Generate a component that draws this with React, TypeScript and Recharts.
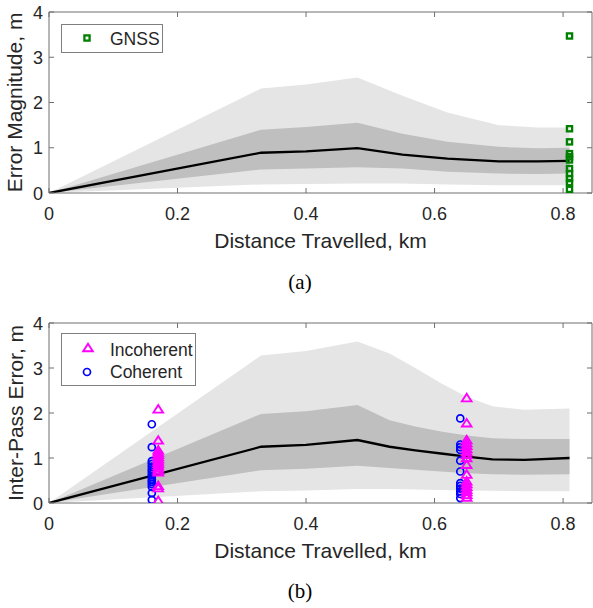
import { ComposedChart, Area, Line, Scatter, XAxis, YAxis, ReferenceLine } from "recharts";

// panel (a): GNSS error vs distance
const distA = [0, 0.33, 0.4, 0.48, 0.55, 0.62, 0.7, 0.76, 0.81];
const meanA = [0, 0.89, 0.92, 0.99, 0.85, 0.76, 0.7, 0.7, 0.71];
const darkLoA = [0, 0.52, 0.54, 0.57, 0.54, 0.47, 0.43, 0.42, 0.43];
const darkHiA = [0, 1.4, 1.46, 1.55, 1.31, 1.13, 1.02, 0.99, 1.0];
const lightLoA = [0, 0.19, 0.2, 0.21, 0.21, 0.19, 0.17, 0.17, 0.17];
const lightHiA = [0, 2.31, 2.4, 2.55, 2.15, 1.78, 1.5, 1.45, 1.45];
const gnssDist = 0.81;
const gnssErr = [3.47, 1.42, 1.13, 0.87, 0.8, 0.73, 0.54, 0.43, 0.32, 0.23, 0.08];

// panel (b): inter-pass error vs distance
const distB = [0, 0.33, 0.4, 0.48, 0.53, 0.57, 0.61, 0.65, 0.69, 0.74, 0.81];
const meanB = [0, 1.25, 1.29, 1.4, 1.25, 1.17, 1.1, 1.03, 0.97, 0.96, 1.0];
const darkLoB = [0, 0.73, 0.76, 0.83, 0.78, 0.74, 0.7, 0.66, 0.64, 0.63, 0.64];
const darkHiB = [0, 1.98, 2.04, 2.18, 1.84, 1.7, 1.59, 1.5, 1.44, 1.42, 1.42];
const lightLoB = [0, 0.26, 0.28, 0.31, 0.31, 0.3, 0.29, 0.28, 0.27, 0.26, 0.26];
const lightHiB = [0, 3.28, 3.38, 3.59, 3.32, 3.0, 2.66, 2.36, 2.15, 2.07, 2.1];

const passDist = [0.16, 0.17, 0.64, 0.65];
const coherent1 = [1.75, 1.24, 0.93, 0.87, 0.81, 0.75, 0.7, 0.64, 0.58, 0.52, 0.47, 0.42, 0.36, 0.22, 0.07];
const incoherent1 = [2.08, 1.39, 1.17, 1.12, 1.07, 1.02, 0.97, 0.92, 0.87, 0.82, 0.77, 0.72, 0.68, 0.38, 0.33, 0.05];
const coherent2 = [1.88, 1.3, 1.24, 1.18, 0.94, 0.7, 0.44, 0.38, 0.32, 0.26, 0.2, 0.11];
const incoherent2 = [2.33, 1.77, 1.4, 1.33, 1.27, 1.2, 1.13, 1.07, 1.0, 0.85, 0.63, 0.48, 0.42, 0.36, 0.3, 0.24, 0.18, 0.12];

const xTicks = [0, 0.2, 0.4, 0.6, 0.8];
const yTicks = [0, 1, 2, 3, 4];
const X_MAX = 0.845;
const Y_MAX = 4;

const AXIS = "#6f6f6f";
const TXT = "#262626";
const SANS = "'Liberation Sans', Arial, sans-serif";
const PLOT_RIGHT = 592;

const bandRows = (d: number[], m: number[], dl: number[], dh: number[], ll: number[], lh: number[]) =>
  d.map((x, i) => ({ x, mean: m[i], dark: [dl[i], dh[i]], light: [ll[i], lh[i]] }));

const pts = (x: number, ys: number[]) => ys.map((y) => ({ x, y }));

// matlab style: inward ticks on all four sides
const makeBottomTick = (plotTop: number) => (p: any) => (
  <g>
    <line x1={p.x} x2={p.x} y1={p.y} y2={p.y - 5} stroke={AXIS} />
    <line x1={p.x} x2={p.x} y1={plotTop} y2={plotTop + 5} stroke={AXIS} />
    <text x={p.x} y={p.y + 27} textAnchor="middle" fontSize={18} fontFamily={SANS} fill={TXT}>
      {p.payload.value}
    </text>
  </g>
);
const LeftTick = (p: any) => (
  <g>
    <line x1={p.x} x2={p.x + 5} y1={p.y} y2={p.y} stroke={AXIS} />
    <line x1={PLOT_RIGHT} x2={PLOT_RIGHT - 5} y1={p.y} y2={p.y} stroke={AXIS} />
    <text x={p.x - 6} y={p.y + 6.5} textAnchor="end" fontSize={18} fontFamily={SANS} fill={TXT}>
      {p.payload.value}
    </text>
  </g>
);

const Square = (p: any) => (
  <rect x={p.cx - 2.6} y={p.cy - 2.6} width={5.2} height={5.2} fill="none" stroke="#008000" strokeWidth={2.3} />
);
const Circle = (p: any) => <circle cx={p.cx} cy={p.cy} r={3.5} fill="none" stroke="#0000ff" strokeWidth={1.7} />;
const Tri = (p: any) => (
  <polygon
    points={`${p.cx},${p.cy - 4.3} ${p.cx - 4.8},${p.cy + 3.2} ${p.cx + 4.8},${p.cy + 3.2}`}
    fill="none"
    stroke="#ff00ff"
    strokeWidth={1.9}
  />
);

type Marks = { data: { x: number; y: number }[]; shape: any };

function Panel({ rows, marks, top, bottom, height }: { rows: any[]; marks: Marks[]; top: number; bottom: number; height: number }) {
  // axes get 1px of room so that Recharts still draws them
  return (
    <ComposedChart width={593} height={height} data={rows} margin={{ top, right: 593 - PLOT_RIGHT, bottom: bottom - 1, left: 48 }}>
      <XAxis
        dataKey="x"
        type="number"
        domain={[0, X_MAX]}
        ticks={xTicks}
        interval={0}
        allowDataOverflow
        height={1}
        tickSize={0}
        tickMargin={0}
        tickLine={false}
        tick={makeBottomTick(top)}
        axisLine={{ stroke: AXIS }}
      />
      <YAxis
        type="number"
        domain={[0, Y_MAX]}
        ticks={yTicks}
        interval={0}
        allowDataOverflow
        width={1}
        tickSize={0}
        tickMargin={0}
        tickLine={false}
        tick={LeftTick}
        axisLine={{ stroke: AXIS }}
      />
      <Area dataKey="light" type="linear" stroke="none" fill="#e5e5e5" fillOpacity={1} isAnimationActive={false} />
      <Area dataKey="dark" type="linear" stroke="none" fill="#bfbfbf" fillOpacity={1} isAnimationActive={false} />
      <Line dataKey="mean" type="linear" stroke="#000" strokeWidth={2.3} dot={false} isAnimationActive={false} />
      {marks.map((m, i) => (
        <Scatter key={i} data={m.data} dataKey="y" shape={m.shape} isAnimationActive={false} />
      ))}
      <ReferenceLine y={Y_MAX} stroke={AXIS} ifOverflow="visible" />
      <ReferenceLine x={X_MAX} stroke={AXIS} ifOverflow="visible" />
    </ComposedChart>
  );
}

export default function App() {
  const rowsA = bandRows(distA, meanA, darkLoA, darkHiA, lightLoA, lightHiA);
  const rowsB = bandRows(distB, meanB, darkLoB, darkHiB, lightLoB, lightHiB);
  const marksA: Marks[] = [{ data: pts(gnssDist, gnssErr), shape: Square }];
  const marksB: Marks[] = [
    { data: pts(passDist[0], coherent1), shape: Circle },
    { data: pts(passDist[2], coherent2), shape: Circle },
    { data: pts(passDist[1], incoherent1), shape: Tri },
    { data: pts(passDist[3], incoherent2), shape: Tri },
  ];

  return (
    <div style={{ position: "absolute", left: 0, top: 0, width: 593, height: 608, background: "#fff" }}>
      <div style={{ position: "absolute", left: 0, top: 0 }}>
        <Panel rows={rowsA} marks={marksA} top={12} bottom={107} height={300} />
      </div>
      <div style={{ position: "absolute", left: 0, top: 300 }}>
        <Panel rows={rowsB} marks={marksB} top={23} bottom={105} height={308} />
      </div>
      <svg width={593} height={608} style={{ position: "absolute", left: 0, top: 0, pointerEvents: "none" }}>
        <g fontFamily={SANS} fill={TXT}>
          <text x={320.5} y={248} textAnchor="middle" fontSize={21}>Distance Travelled, km</text>
          <text x={22} y={102.5} textAnchor="middle" fontSize={21} transform="rotate(-90 22 102.5)">
            Error Magnitude, m
          </text>
          <text x={320.5} y={558} textAnchor="middle" fontSize={21}>Distance Travelled, km</text>
          <text x={23} y={413} textAnchor="middle" fontSize={21} transform="rotate(-90 23 413)">
            Inter-Pass Error, m
          </text>
        </g>
        <g fontFamily="'Liberation Serif', 'Times New Roman', serif" fill="#000" fontSize={21}>
          <text x={300} y={289} textAnchor="middle">(a)</text>
          <text x={300} y={598} textAnchor="middle">(b)</text>
        </g>
        <rect x={61.5} y={24.5} width={101} height={28} fill="#fff" stroke="#7f7f7f" />
        <rect x={87 - 2.6} y={38 - 2.6} width={5.2} height={5.2} fill="none" stroke="#008000" strokeWidth={2.3} />
        <text x={110} y={45} fontSize={17.5} fontFamily={SANS} fill={TXT}>GNSS</text>
        <rect x={61.5} y={333.5} width={134} height={52} fill="#fff" stroke="#7f7f7f" />
        <polygon points="88,343.7 83.2,351.2 92.8,351.2" fill="none" stroke="#ff00ff" strokeWidth={1.9} />
        <circle cx={87} cy={372} r={3.5} fill="none" stroke="#0000ff" strokeWidth={1.7} />
        <g fontSize={17.5} fontFamily={SANS} fill={TXT}>
          <text x={110} y={356}>Incoherent</text>
          <text x={110} y={378}>Coherent</text>
        </g>
      </svg>
    </div>
  );
}
